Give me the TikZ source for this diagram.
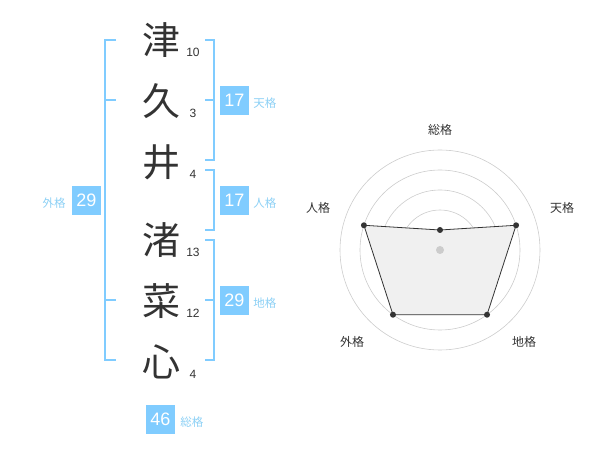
\documentclass[tikz,border=0pt]{standalone}
\usepackage{fontspec}
\setmainfont{Liberation Sans}
\newfontfamily\jpfont{Noto Sans CJK JP}
\usetikzlibrary{positioning,calc}
\definecolor{kakublue}{HTML}{80CCFF}
\definecolor{taglight}{HTML}{8CD0F5}
\definecolor{inkgray}{HTML}{333333}
\definecolor{ringgray}{HTML}{CCCCCC}
\definecolor{radarfill}{HTML}{F0F0F0}

\begin{document}
\begin{tikzpicture}[x=1pt,y=-1pt,
    kanji node/.style={font=\jpfont\fontsize{38}{38}\selectfont,text=inkgray,inner sep=0pt},
    count node/.style={font=\fontsize{12}{12}\selectfont,text=inkgray,inner sep=0pt},
    box node/.style={fill=kakublue,text=white,font=\fontsize{18}{18}\selectfont,minimum size=29pt,inner sep=0pt},
    tag node/.style={font=\jpfont\fontsize{11.5}{12}\selectfont,text=taglight,inner sep=0pt},
    bracket/.style={draw=kakublue,line width=2pt},
    ring/.style={draw=ringgray,line width=0.6pt},
    dot node/.style={circle,fill=inkgray,inner sep=0pt,minimum size=6pt},
    radar label/.style={font=\jpfont\fontsize{12}{12}\selectfont,text=inkgray,inner sep=0pt}]

    \useasboundingbox (0,0) rectangle (600,470);

    % name and stroke counts
    \foreach \ch/\strokes/\ypos [count=\i] in {津/10/40, 久/3/101, 井/4/162, 渚/13/240, 菜/12/301, 心/4/362}{
        \node[kanji node] (k\i) at (161,\ypos) {\ch};
        \node[count node] (n\i) at (193,\ypos+12) {\strokes};
    }

    % brackets
    \draw[bracket] (116,40) -- (105,40) -- (105,360) -- (116,360);
    \draw[bracket] (105,100) -- (116,100) (105,300) -- (116,300);
    \draw[bracket] (205,40) -- (214,40) -- (214,160) -- (205,160) (214,100) -- (205,100);
    \draw[bracket] (205,170) -- (214,170) -- (214,230) -- (205,230);
    \draw[bracket] (205,240) -- (214,240) -- (214,360) -- (205,360) (214,300) -- (205,300);

    % scores
    \node[box node] (ten box) at (234.5,100.5) {17};
    \node[tag node, right=4pt of ten box, yshift=-3pt] (ten tag) {天格};
    \node[box node] (jin box) at (234.5,200.5) {17};
    \node[tag node, right=4pt of jin box, yshift=-3pt] (jin tag) {人格};
    \node[box node] (chi box) at (234.5,300.5) {29};
    \node[tag node, right=4pt of chi box, yshift=-3pt] (chi tag) {地格};
    \node[box node] (gai box) at (86.5,200.5) {29};
    \node[tag node, left=6pt of gai box, yshift=-3pt] (gai tag) {外格};
    \node[box node] (sou box) at (160.5,419) {46};
    \node[tag node, right=5pt of sou box, yshift=-3pt] (sou tag) {総格};

    % radar chart
    \begin{scope}[shift={(440,250)}]
        \foreach \r in {20,40,...,100}{
            \draw[ring] (0,0) circle[radius=\r pt];
        }
        \coordinate (v sou) at (-90:20);
        \coordinate (v ten) at (-18:80);
        \coordinate (v chi) at (54:80);
        \coordinate (v gai) at (126:80);
        \coordinate (v jin) at (198:80);
        \draw[fill=radarfill,draw=inkgray,line width=0.8pt]
            (v sou) -- (v ten) -- (v chi) -- (v gai) -- (v jin) -- cycle;
        \node[circle,fill=ringgray,inner sep=0pt,minimum size=8pt] (hub) at (0,0) {};
        \foreach \v in {sou,ten,chi,gai,jin}{
            \node[dot node] (d \v) at (v \v) {};
        }
        \foreach \name/\lx/\ly [count=\j] in {総格/0/-120, 天格/122/-42, 地格/84/92, 外格/-88/92, 人格/-122/-42}{
            \node[radar label] (l\j) at (\lx,\ly) {\name};
        }
    \end{scope}

\end{tikzpicture}
\end{document}
